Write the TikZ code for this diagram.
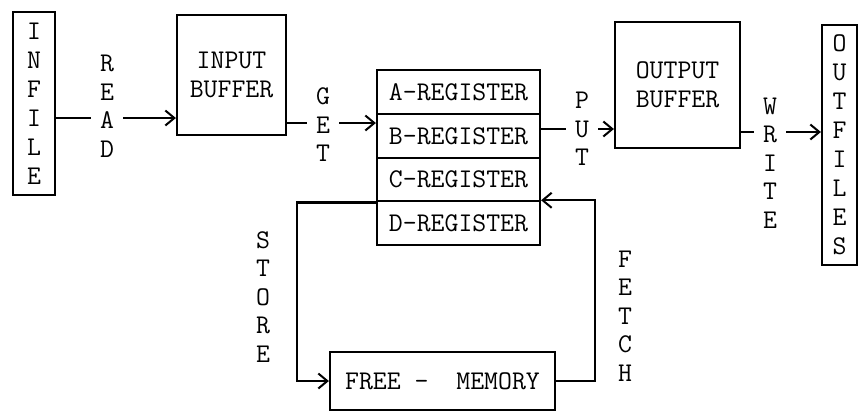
\documentclass[tikz,border=0pt]{standalone}
\usetikzlibrary{arrows.meta, positioning}
\tikzset{
    box/.style={
        draw,
        line width=2.2pt,
        align=center,
        inner sep=0pt,
        font=\ttfamily\fontsize{27}{29}\selectfont
    },
    regbox/.style={
        box,
        minimum width=163pt,
        minimum height=43.75pt
    },
    vlabel/.style={
        align=center,
        inner sep=9pt,
        font=\ttfamily\fontsize{27}{28.5}\selectfont
    },
    line/.style={
        line width=2.2pt
    },
    arrow/.style={
        line,
        -{Straight Barb[length=9pt, width=15pt, line width=2pt]}
    }
}
\begin{document}
\begin{tikzpicture}[x=1pt, y=-1pt]
        \useasboundingbox (0,0) rectangle (859,413);

        % Files and buffers
        \node[box, minimum width=42pt, minimum height=183pt] (infile) at (34,103.5) {I\\N\\F\\I\\L\\E};
        \node[box, minimum width=109pt, minimum height=120pt] (ibuf) at (231.5,75) {INPUT\\BUFFER};
        \node[box, minimum width=125pt, minimum height=126pt] (obuf) at (677.5,85) {OUTPUT\\BUFFER};
        \node[box, minimum width=35pt, minimum height=240pt] (outfiles) at (839.5,145) {O\\U\\T\\F\\I\\L\\E\\S};

        % Registers
        \node[regbox] (regA) at (458.5,92) {A-REGISTER};
        \node[regbox] (regB) at (458.5,135.75) {B-REGISTER};
        \node[regbox] (regC) at (458.5,179.5) {C-REGISTER};
        \node[regbox] (regD) at (458.5,223.25) {D-REGISTER};

        % Free memory
        \node[box, minimum width=225pt, minimum height=58pt] (mem) at (442.5,381) {FREE - \ MEMORY};

        % Labels
        \node[vlabel] (read) at (107,106) {R\\E\\A\\D};
        \node[vlabel] (get) at (323,125) {G\\E\\T};
        \node[vlabel] (put) at (582,129) {P\\U\\T};
        \node[vlabel] (write) at (770,163) {W\\R\\I\\T\\E};
        \node[vlabel] (store) at (263,297) {S\\T\\O\\R\\E};
        \node[vlabel] (fetch) at (625,316) {F\\E\\T\\C\\H};

        % Rows and turns
        \coordinate (readrow) at (0,118);
        \coordinate (getrow) at (0,123);
        \coordinate (putrow) at (0,129);
        \coordinate (writerow) at (0,132);
        \coordinate (storeturn) at (297,0);
        \coordinate (fetchturn) at (595,0);

        % Main flow
        \draw[line] (infile.east |- readrow) -- (read.west |- readrow);
        \draw[arrow] (read.east |- readrow) -- (ibuf.west |- readrow);
        \draw[line] (ibuf.east |- getrow) -- (get.west |- getrow);
        \draw[arrow] (get.east |- getrow) -- (regA.west |- getrow);
        \draw[line] (regA.east |- putrow) -- (put.west |- putrow);
        \draw[arrow] (put.east |- putrow) -- (obuf.west |- putrow);
        \draw[line] (obuf.east |- writerow) -- (write.west |- writerow);
        \draw[arrow] (write.east |- writerow) -- (outfiles.west |- writerow);

        % Store and fetch loop
        \draw[arrow] (regC.south west) -- (storeturn |- regC.south west) -- (storeturn |- mem.west) -- (mem.west);
        \draw[arrow] (mem.east) -- (fetchturn |- mem.east) -- (fetchturn |- regD.north east) -- (regD.north east);
    \end{tikzpicture}
\end{document}
